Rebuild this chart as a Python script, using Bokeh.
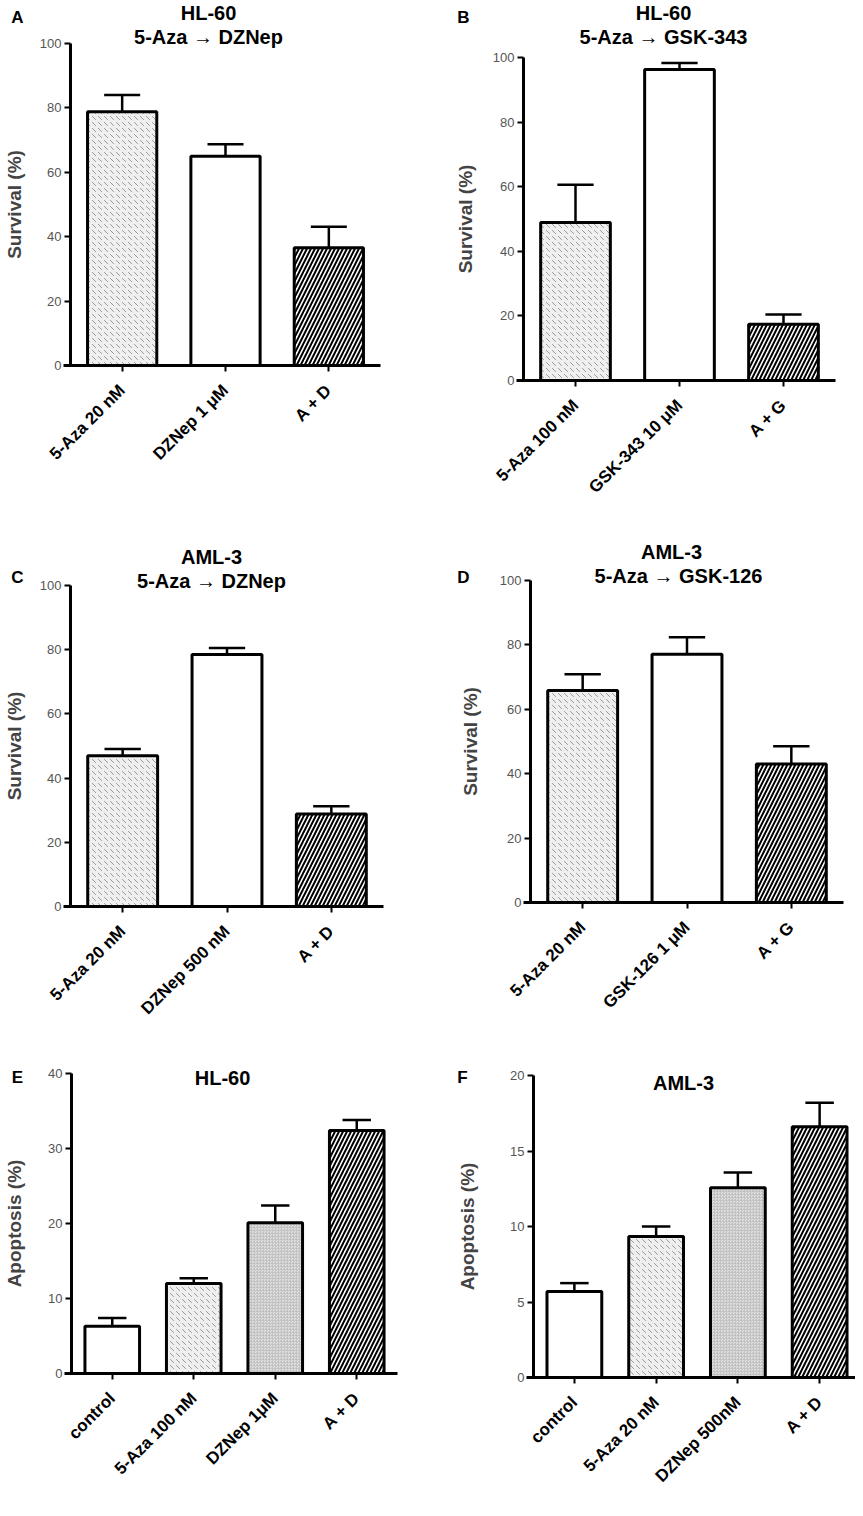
import math
from bokeh.plotting import figure
from bokeh.models import (ColumnDataSource, Range1d, FixedTicker,
                          Whisker, TeeHead, Label)
from bokeh.layouts import column, row
from bokeh.embed import file_html
from bokeh.resources import INLINE

FONT = "Liberation Sans"

# ---------------- data ----------------
cats_A = ["5-Aza 20 nM", "DZNep 1 μM", "A + D"]
vals_A = [78.8, 65.0, 36.6]
errs_A = [5.2, 3.7, 6.5]
style_A = ["speckle", "white", "stripe"]

cats_B = ["5-Aza 100 nM", "GSK-343 10 μM", "A + G"]
vals_B = [48.9, 96.3, 17.4]
errs_B = [11.7, 2.0, 3.0]
style_B = ["speckle", "white", "stripe"]

cats_C = ["5-Aza 20 nM", "DZNep 500 nM", "A + D"]
vals_C = [47.0, 78.5, 28.8]
errs_C = [2.1, 2.0, 2.4]
style_C = ["speckle", "white", "stripe"]

cats_D = ["5-Aza 20 nM", "GSK-126 1 μM", "A + G"]
vals_D = [65.8, 77.1, 43.0]
errs_D = [5.1, 5.3, 5.5]
style_D = ["speckle", "white", "stripe"]

cats_E = ["control", "5-Aza 100 nM", "DZNep 1μM", "A + D"]
vals_E = [6.3, 12.0, 20.1, 32.4]
errs_E = [1.1, 0.7, 2.3, 1.4]
style_E = ["white", "speckle", "fine", "stripe"]

cats_F = ["control", "5-Aza 20 nM", "DZNep 500nM", "A + D"]
vals_F = [5.7, 9.33, 12.57, 16.6]
errs_F = [0.55, 0.67, 1.0, 1.6]
style_F = ["white", "speckle", "fine", "stripe"]

yticks_survival = [0, 20, 40, 60, 80, 100]
yticks_E = [0, 10, 20, 30, 40]
yticks_F = [0, 5, 10, 15, 20]

STYLES = {
    "white":   dict(fill="#ffffff", hatch=" ", hcolor="#ffffff", hscale=6, hweight=1),
    "speckle": dict(fill="#efefef", hatch="left_diagonal_dash", hcolor="#999999", hscale=6, hweight=1),
    "fine":    dict(fill="#e4e4e4", hatch="criss_cross", hcolor="#bbbbbb", hscale=3, hweight=0.6),
    "stripe":  dict(fill="#ffffff", hatch="right_diagonal_line", hcolor="#000000", hscale=8, hweight=2),
}


def make_panel(cats, vals, errs, styles, yticks, ylabel, titles, letter, geo):
    """geo: pixel layout of the panel in the picture (figure box, axis origin, axis ends)."""
    fx, fy, W, H = geo["fig"]
    X0, Xend, Y0, Ytop = geo["axes"]
    n = len(cats)
    ymax = yticks[-1]
    # categories sit at 1..n, the y axis at 0.5, the x axis runs to n + 0.5
    sx = (Xend - X0) / n
    sy = (Y0 - Ytop) / ymax
    x_start = 0.5 + (fx - X0) / sx
    x_end = 0.5 + (fx + W - X0) / sx
    y_start = -(fy + H - Y0) / sy
    y_end = ymax + (Ytop - fy) / sy

    p = figure(x_range=Range1d(x_start, x_end), y_range=Range1d(y_start, y_end), title=None,
               width=W, height=H, output_backend="svg", toolbar_location=None,
               min_border_left=0, min_border_right=0, min_border_top=0, min_border_bottom=0)
    p.outline_line_color = None
    p.grid.visible = False
    p.background_fill_color = "white"
    p.border_fill_color = "white"

    pos = list(range(1, n + 1))
    src = ColumnDataSource(dict(
        x=pos, top=vals, upper=[v + e for v, e in zip(vals, errs)],
        fill=[STYLES[s]["fill"] for s in styles],
        hatch=[STYLES[s]["hatch"] for s in styles],
        hcolor=[STYLES[s]["hcolor"] for s in styles],
        hscale=[STYLES[s]["hscale"] for s in styles],
        hweight=[STYLES[s]["hweight"] for s in styles],
    ))
    bar_w = 0.67
    p.add_layout(Whisker(source=src, base="x", lower="top", upper="upper",
                         dimension="height", line_width=2.5, line_color="black",
                         lower_head=None,
                         upper_head=TeeHead(size=0.52 * bar_w * sx, line_width=2.5,
                                            line_color="black"),
                         level="glyph"))
    p.vbar(x="x", top="top", width=bar_w, source=src, fill_color="fill",
           line_color="black", line_width=3, hatch_pattern="hatch",
           hatch_color="hcolor", hatch_scale="hscale", hatch_weight="hweight")

    ya = p.yaxis[0]
    ya.fixed_location = 0.5
    ya.bounds = (0, ymax)
    ya.ticker = FixedTicker(ticks=yticks)
    ya.minor_tick_line_color = None
    ya.axis_line_width = 3
    ya.major_tick_line_width = 2
    ya.major_tick_out = 6
    ya.major_tick_in = 0
    ya.major_label_standoff = 3
    ya.major_label_text_font = FONT
    ya.major_label_text_font_size = "13px"
    ya.major_label_text_color = "#555555"
    ya.axis_label = ylabel
    ya.axis_label_text_font = FONT
    ya.axis_label_text_font_style = "bold"
    ya.axis_label_text_font_size = "19px"
    ya.axis_label_standoff = geo["ylab_standoff"]

    xa = p.xaxis[0]
    xa.fixed_location = 0
    xa.bounds = (0.5 - 7 / sx, n + 0.5)
    xa.ticker = FixedTicker(ticks=pos)
    xa.major_label_overrides = {i: c for i, c in zip(pos, cats)}
    xa.minor_tick_line_color = None
    xa.axis_line_width = 3
    xa.major_tick_line_width = 2
    xa.major_tick_out = 6
    xa.major_tick_in = 0
    xa.major_label_standoff = 16
    xa.major_label_orientation = math.pi / 4
    xa.major_label_text_font = FONT
    xa.major_label_text_font_style = "bold"
    xa.major_label_text_font_size = "17px"
    xa.major_label_text_color = "black"

    def put(text, px, py, size):
        p.add_layout(Label(x=px - fx, y=fy + H - py, x_units="screen", y_units="screen",
                           text=text, text_font=FONT, text_font_style="bold",
                           text_font_size=size, text_align="center", text_baseline="middle",
                           text_color="black"))

    for (t, tx, ty) in titles:
        put(t, tx, ty, "20px")
    put(letter[0], letter[1], letter[2], "17px")
    return p


pA = make_panel(cats_A, vals_A, errs_A, style_A, yticks_survival, "Survival (%)",
                [("HL-60", 208, 12), ("5-Aza → DZNep", 208, 36)], ("A", 17, 17),
                dict(fig=(0, 0, 430, 505), axes=(70, 380, 365, 43), ylab_standoff=12))
pB = make_panel(cats_B, vals_B, errs_B, style_B, yticks_survival, "Survival (%)",
                [("HL-60", 663, 12), ("5-Aza → GSK-343", 663, 36)], ("B", 463, 17),
                dict(fig=(430, 0, 425, 505), axes=(523, 835, 380, 57), ylab_standoff=14))
pC = make_panel(cats_C, vals_C, errs_C, style_C, yticks_survival, "Survival (%)",
                [("AML-3", 211, 556), ("5-Aza → DZNep", 211, 580)], ("C", 17, 577),
                dict(fig=(0, 505, 430, 522), axes=(70, 383, 906, 585), ylab_standoff=12))
pD = make_panel(cats_D, vals_D, errs_D, style_D, yticks_survival, "Survival (%)",
                [("AML-3", 671, 551), ("5-Aza → GSK-126", 678, 575)], ("D", 463, 577),
                dict(fig=(430, 505, 425, 522), axes=(530, 843, 902, 580), ylab_standoff=16))
pE = make_panel(cats_E, vals_E, errs_E, style_E, yticks_E, "Apoptosis (%)",
                [("HL-60", 222, 1077)], ("E", 17, 1077),
                dict(fig=(0, 1027, 430, 481), axes=(71, 397, 1373, 1073), ylab_standoff=20))
pF = make_panel(cats_F, vals_F, errs_F, style_F, yticks_F, "Apoptosis (%)",
                [("AML-3", 683, 1082)], ("F", 462, 1077),
                dict(fig=(430, 1027, 425, 481), axes=(533, 860, 1377, 1075), ylab_standoff=29))

layout = column(row(pA, pB), row(pC, pD), row(pE, pF))
open("out.html", "w").write(file_html(layout, INLINE))
